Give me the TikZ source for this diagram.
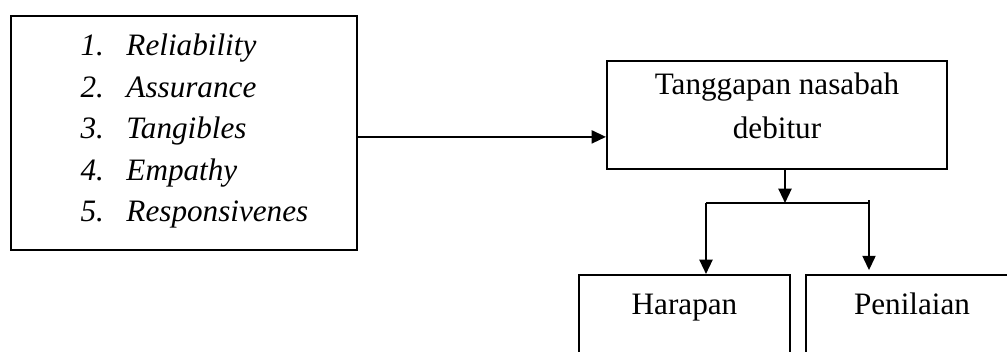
\documentclass[tikz,border=0pt]{standalone}
\usepackage{fontspec}
\setmainfont{Liberation Serif}
\usetikzlibrary{arrows.meta,positioning}

\begin{document}
\begin{tikzpicture}[x=0.385pt,y=-0.385pt,
		box/.style={draw,line width=0.8pt,font=\fontsize{12}{17}\selectfont,align=center},
		arr/.style={line width=0.8pt,-{Triangle[length=5.5pt,width=5pt]}}]
		\useasboundingbox (0,0) rectangle (1007,351);
		\clip (0,0) rectangle (1007,351);

		\node[box,minimum width=133.2pt,minimum height=90.1pt] (dims) at (184,133) {};
		\node[anchor=north west,inner sep=0pt,font=\fontsize{12}{16}\selectfont\itshape] (list) at (80,26)
			{\begin{tabular}{@{}p{17.7pt}@{}l@{}}
				1. & Reliability\\
				2. & Assurance\\
				3. & Tangibles\\
				4. & Empathy\\
				5. & Responsivenes
			\end{tabular}};

		\node[box,minimum width=130.9pt,minimum height=41.6pt,text depth=7pt] (resp) at (777,115) {Tanggapan nasabah\\debitur};

		\node[box,anchor=north,minimum width=81.2pt,inner ysep=6pt,text height=9pt,text depth=40pt] (harapan) at (684.5,274) {Harapan};
		\node[box,anchor=north,minimum width=81.6pt,inner ysep=6pt,text height=9pt,text depth=40pt] (nilai) at (912,274) {Penilaian};

		\coordinate (split) at (785,203);
		\coordinate (lbr) at (706,203);
		\coordinate (rbr) at (869,200);

		\draw[arr] ([yshift=-1.5pt]dims.east) -- ([yshift=-1.5pt]dims.east -| resp.west);
		\draw[arr] (resp.south -| split) -- (split);
		\draw[line width=0.8pt] (lbr) -- (split) -- (split -| rbr);
		\draw[arr] (lbr) -- (lbr |- harapan.north);
		\draw[arr] (rbr) -- ([yshift=1.5pt]rbr |- nilai.north);
	\end{tikzpicture}
\end{document}
